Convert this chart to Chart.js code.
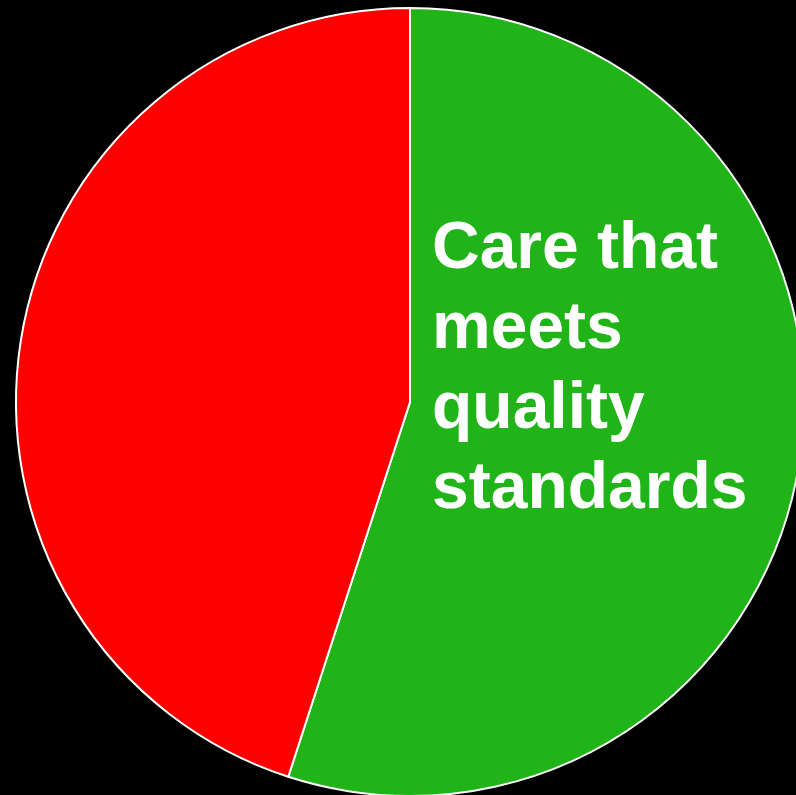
<!DOCTYPE html>
<html>
<head>
<meta charset="utf-8">
<script src="https://cdn.jsdelivr.net/npm/chart.js@4.4.1/dist/chart.umd.min.js"></script>
<style>
  html, body { margin: 0; padding: 0; background: #000; overflow: hidden; }
  #wrap { position: absolute; left: 0; top: 0; width: 820px; height: 806px; }
</style>
</head>
<body>
<div id="wrap"><canvas id="pie" width="820" height="806"></canvas></div>
<script>
// datos del gráfico
const categorias = ['Care that meets quality standards', 'Other care'];
const valores = [55, 45];
const colores = ['#20B418', '#FF0000'];
const etiqueta = ['Care that', 'meets', 'quality', 'standards'];

// texto dentro de la porción verde
const etiquetaPlugin = {
    id: 'etiqueta',
    afterDatasetsDraw(chart) {
        const arc = chart.getDatasetMeta(0).data[0];
        const ctx = chart.ctx;
        ctx.save();
        ctx.fillStyle = '#FFFFFF';
        ctx.font = 'bold 66px "Liberation Sans", Arial, sans-serif';
        ctx.textAlign = 'left';
        ctx.textBaseline = 'alphabetic';
        etiqueta.forEach((t, i) => {
            ctx.fillText(t, arc.x + 22, arc.y - 134 + i * 80);
        });
        ctx.restore();
    }
};

new Chart(document.getElementById('pie'), {
    type: 'pie',
    data: {
        labels: categorias,
        datasets: [{
            data: valores,
            backgroundColor: colores,
            borderColor: '#FFFFFF',
            borderWidth: 2
        }]
    },
    options: {
        responsive: false,
        animation: false,
        layout: { padding: { top: 7, bottom: 9, left: 8, right: 8 } },
        plugins: { legend: { display: false }, tooltip: { enabled: false } }
    },
    plugins: [etiquetaPlugin]
});
</script>
</body>
</html>
